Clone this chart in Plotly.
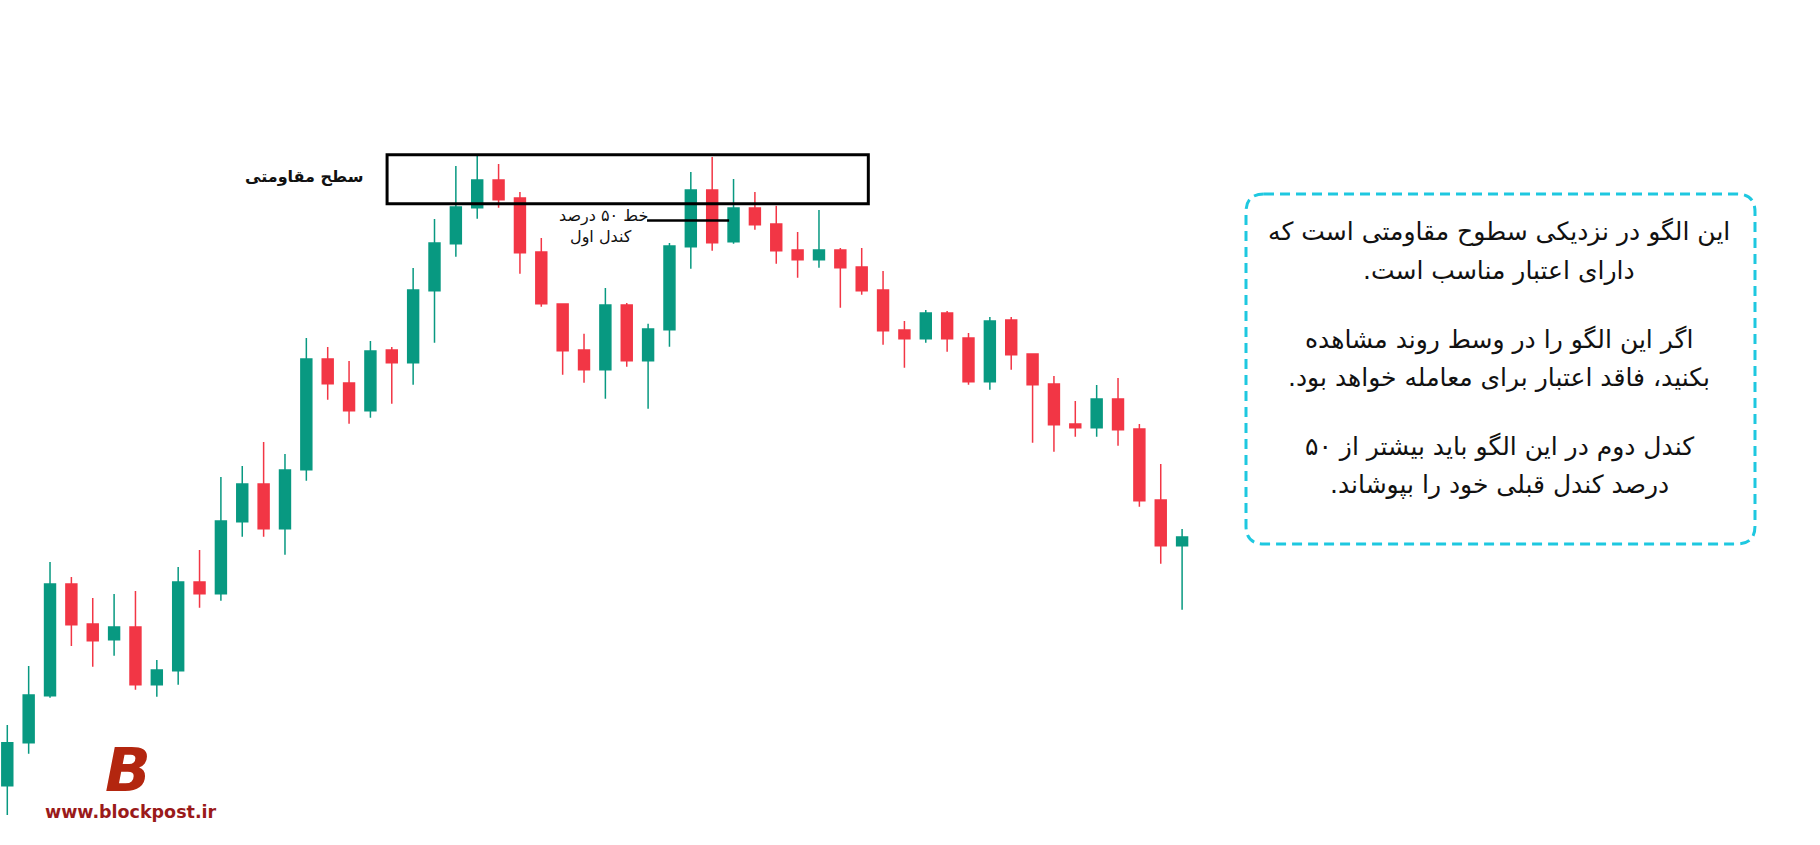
import plotly.graph_objects as go

# ---------------- data (price units) ----------------
idx = list(range(56))
opens = [59.3, 102.3, 149.3, 261, 221, 205.3, 218, 160.3, 174.3, 263,
         251.3, 323.3, 361, 316.3, 375.3, 486, 462, 434.3, 495, 482.3,
         554.3, 601.3, 637.3, 665, 647, 593, 541, 495, 475.3, 540,
         484.3, 515.3, 598.3, 655, 603.3, 637, 621, 595, 585.3, 595,
         578, 555, 515, 506.3, 532, 507, 463.3, 525, 491, 461,
         421, 417.3, 446, 416, 345, 299.3]
highs = [120, 179, 283, 268, 247, 251, 254, 185, 278, 295,
         368, 379, 403, 391, 507, 498, 484, 504, 498, 577,
         626, 679, 689, 681, 653, 607, 541, 511.3, 557, 542,
         521.3, 602, 673, 688, 666, 653, 639.3, 613, 635, 597,
         597, 574, 524, 535, 534, 512, 528, 528, 491, 469,
         444, 460, 467, 421, 381, 316]
lows = [30, 91.3, 147.3, 199, 178.3, 189.3, 155.3, 148.3, 160.3, 237.3,
        244.3, 308.3, 308.3, 290.3, 364.3, 445.3, 421.3, 427.3, 441.3, 460.3,
        502.3, 588.3, 626.3, 637.3, 571.3, 538.3, 470.3, 462.3, 446.3, 478.3,
        436.3, 498.3, 576.3, 594.3, 601.3, 615.3, 581.3, 567.3, 577.3, 537.3,
        550.3, 500.3, 477.3, 502.3, 493.3, 460.3, 455.3, 475.3, 402.3, 393.3,
        408.3, 408.3, 399.3, 338.3, 281.3, 235.3]
closes = [102.3, 150, 261, 220.3, 204.3, 218, 160.3, 175, 263, 251.3,
          324, 361, 316.3, 375, 486, 461.3, 434.3, 494, 482.3, 555,
          602, 638, 665, 645.3, 592.3, 541.3, 494.3, 475.3, 540, 484.3,
          516, 599, 655, 602.3, 637, 620.3, 594.3, 585.3, 595, 577.3,
          554.3, 514.3, 506.3, 532, 506.3, 463.3, 524, 490.3, 460.3, 420.3,
          417.3, 446, 415.3, 344.3, 299.3, 308]

# resistance zone and 50% line (data coordinates)
zone_x = [17.78, 40.31]
zone_y = [641.3, 690.3]
half_line_x = [29.95, 33.79]
half_line_y = 624.5

label_resist = "سطح مقاومتی"
label_half_1 = "خط ۵۰ درصد"
label_half_2 = "کندل اول"
box_lines = [
    "این الگو در نزدیکی سطوح مقاومتی است که",
    "دارای اعتبار مناسب است.",
    "اگر این الگو را در وسط روند مشاهده",
    "بکنید، فاقد اعتبار برای معامله خواهد بود.",
    "کندل دوم در این الگو باید بیشتر از ۵۰",
    "درصد کندل قبلی خود را بپوشاند.",
]
box_line_y = [232, 270, 340, 377, 447, 484]  # pixel rows

W, H = 1820, 845
X0PX, STEP = 7.3, 21.36
GREEN, RED = "#089981", "#f23645"
RLM = "\u200f"


def rtl(s):
    return RLM + s + RLM


def px_x(px):
    return px / W


def px_y(py):
    return 1 - py / H


fig = go.Figure()
fig.add_trace(go.Candlestick(
    x=idx, open=opens, high=highs, low=lows, close=closes,
    increasing=dict(line=dict(color=GREEN, width=1.5), fillcolor=GREEN),
    decreasing=dict(line=dict(color=RED, width=1.5), fillcolor=RED),
    whiskerwidth=0, hoverinfo="skip", showlegend=False,
))

xmin = -X0PX / STEP
xmax = xmin + W / STEP

shapes = [
    dict(type="rect", xref="x", yref="y", x0=zone_x[0], x1=zone_x[1],
         y0=zone_y[0], y1=zone_y[1], line=dict(color="black", width=3),
         fillcolor="rgba(0,0,0,0)"),
    dict(type="line", xref="x", yref="y", x0=half_line_x[0], x1=half_line_x[1],
         y0=half_line_y, y1=half_line_y, line=dict(color="black", width=2.5)),
]

# rounded dashed box
bx0, bx1, by0, by1, r = 1246, 1755, 194, 544, 18
path = (
    f"M {px_x(bx0 + r)},{px_y(by0)} L {px_x(bx1 - r)},{px_y(by0)} "
    f"Q {px_x(bx1)},{px_y(by0)} {px_x(bx1)},{px_y(by0 + r)} "
    f"L {px_x(bx1)},{px_y(by1 - r)} "
    f"Q {px_x(bx1)},{px_y(by1)} {px_x(bx1 - r)},{px_y(by1)} "
    f"L {px_x(bx0 + r)},{px_y(by1)} "
    f"Q {px_x(bx0)},{px_y(by1)} {px_x(bx0)},{px_y(by1 - r)} "
    f"L {px_x(bx0)},{px_y(by0 + r)} "
    f"Q {px_x(bx0)},{px_y(by0)} {px_x(bx0 + r)},{px_y(by0)} Z"
)
shapes.append(dict(type="path", xref="paper", yref="paper", path=path,
                   line=dict(color="#1ec8e0", width=3, dash="10px,6px"),
                   fillcolor="rgba(0,0,0,0)"))

FONT = "DejaVu Sans"
annotations = [
    dict(xref="paper", yref="paper", x=px_x(304), y=px_y(176), text=f"<b>{rtl(label_resist)}</b>",
         showarrow=False, font=dict(family=FONT, size=16, color="#111"), xanchor="center", yanchor="middle"),
    dict(xref="paper", yref="paper", x=px_x(603), y=px_y(216), text=rtl(label_half_1),
         showarrow=False, font=dict(family=FONT, size=16, color="#111"), xanchor="center", yanchor="middle"),
    dict(xref="paper", yref="paper", x=px_x(601), y=px_y(237), text=rtl(label_half_2),
         showarrow=False, font=dict(family=FONT, size=16, color="#111"), xanchor="center", yanchor="middle"),
    dict(xref="paper", yref="paper", x=px_x(128), y=px_y(770), text="<b><i>B</i></b>",
         showarrow=False, font=dict(family=FONT, size=60, color="#b3260f"), xanchor="center", yanchor="middle"),
    dict(xref="paper", yref="paper", x=px_x(131), y=px_y(812), text="<b>www.blockpost.ir</b>",
         showarrow=False, font=dict(family=FONT, size=17.5, color="#9a1a1a"), xanchor="center", yanchor="middle"),
]
for line, py in zip(box_lines, box_line_y):
    annotations.append(dict(xref="paper", yref="paper", x=px_x(1499), y=px_y(py), text=rtl(line),
                            showarrow=False, font=dict(family=FONT, size=25, color="#111"),
                            xanchor="center", yanchor="middle"))

fig.update_layout(
    width=W, height=H, margin=dict(l=0, r=0, t=0, b=0),
    paper_bgcolor="white", plot_bgcolor="white",
    boxgap=0.27,
    xaxis=dict(range=[xmin, xmax], visible=False, rangeslider=dict(visible=False), fixedrange=True),
    yaxis=dict(range=[0, H], visible=False, fixedrange=True),
    shapes=shapes, annotations=annotations, showlegend=False, hovermode=False,
)

fig.write_html("out.html")
